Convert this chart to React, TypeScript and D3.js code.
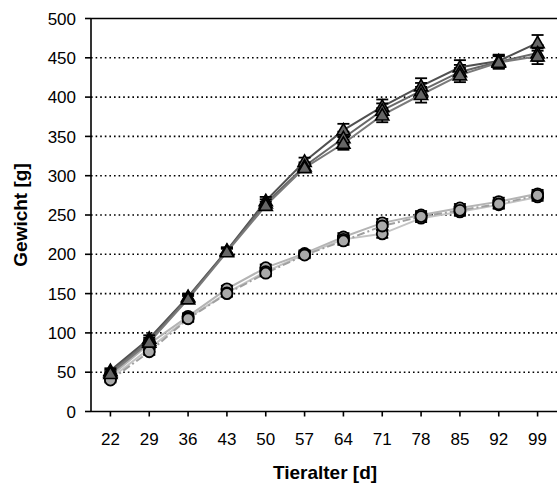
import React from "react";
import * as d3 from "d3";

const ages = ["22", "29", "36", "43", "50", "57", "64", "71", "78", "85", "92", "99"];
const yTicks = [0, 50, 100, 150, 200, 250, 300, 350, 400, 450, 500];

const triA = [52, 93, 146, 205, 268, 318, 358, 388, 414, 438, 446, 469];
const triB = [50, 90, 145, 204, 265, 312, 348, 383, 408, 432, 445, 456];
const triC = [48, 88, 143, 203, 262, 310, 341, 377, 403, 428, 444, 452];
const triErr = [3, 4, 4, 4, 5, 5, 8, 9, 10, 9, 8, 10];

const cirA = [45, 86, 121, 156, 183, 201, 222, 240, 250, 259, 267, 277];
const cirB = [42, 80, 119, 151, 178, 200, 219, 226, 246, 254, 263, 273];
const cirC = [40, 76, 118, 150, 176, 199, 217, 236, 248, 256, 264, 275];
const cirErr = [3, 4, 4, 4, 4, 4, 5, 5, 5, 5, 5, 5];

const W = 558, H = 487;
const left = 91, right = 557, top = 18.5, bottom = 411.5;

export default function App() {
  const x = d3.scaleBand().domain(ages).range([left, right]);
  const y = d3.scaleLinear().domain([0, 500]).range([bottom, top]);
  const cx = (i: number) => (x(ages[i]) as number) + x.bandwidth() / 2;
  const line = d3.line<number>().x((_, i) => cx(i)).y((v) => y(v));
  const tri = d3.symbol().type(d3.symbolTriangle).size(75);

  const triSeries = [
    { v: triA, c: "#505050" },
    { v: triB, c: "#686868" },
    { v: triC, c: "#7a7a7a" },
  ];
  const cirSeries = [
    { v: cirA, c: "#b4b4b4", dash: "" },
    { v: cirB, c: "#c4c4c4", dash: "" },
    { v: cirC, c: "#a0a0a0", dash: "8,3,2,3" },
  ];

  const errBars = (vals: number[], err: number[], key: string) =>
    vals.map((v, i) => (
      <g key={key + i} stroke="#000" strokeWidth={1.8}>
        <line x1={cx(i)} x2={cx(i)} y1={y(v + err[i])} y2={y(v - err[i])} />
        <line x1={cx(i) - 6} x2={cx(i) + 6} y1={y(v + err[i])} y2={y(v + err[i])} />
        <line x1={cx(i) - 6} x2={cx(i) + 6} y1={y(v - err[i])} y2={y(v - err[i])} />
      </g>
    ));

  return (
    <svg width={W} height={H} style={{ position: "absolute", left: 0, top: 0 }} fontFamily="Arial, Liberation Sans, sans-serif">
      <rect width={W} height={H} fill="#fff" />
      {yTicks.filter((t) => t > 0 && t < 500).map((t) => (
        <line key={"g" + t} x1={left} x2={right} y1={y(t)} y2={y(t)} stroke="#000" strokeWidth={1.6} strokeDasharray="1.6,3" />
      ))}
      <line x1={left} x2={right} y1={y(500)} y2={y(500)} stroke="#000" strokeWidth={1.6} />
      <line x1={left} x2={left} y1={top} y2={bottom} stroke="#000" strokeWidth={1.6} />
      <line x1={left} x2={right} y1={bottom} y2={bottom} stroke="#000" strokeWidth={1.6} />
      {yTicks.map((t) => (
        <g key={"yt" + t}>
          <line x1={left - 6} x2={left} y1={y(t)} y2={y(t)} stroke="#000" strokeWidth={1.6} />
          <text x={76} y={y(t)} dy="0.36em" textAnchor="end" fontSize={17}>{t}</text>
        </g>
      ))}
      {ages.map((a, i) => (
        <g key={"xt" + a}>
          <line x1={cx(i)} x2={cx(i)} y1={bottom} y2={bottom + 5} stroke="#000" strokeWidth={1.6} />
          <text x={cx(i)} y={445} textAnchor="middle" fontSize={17}>{a}</text>
        </g>
      ))}
      <text x={325} y={479} textAnchor="middle" fontSize={19} fontWeight="bold">Tieralter [d]</text>
      <text transform={`translate(27,215) rotate(-90)`} textAnchor="middle" fontSize={19} fontWeight="bold">Gewicht [g]</text>

      {cirSeries.map((s, k) => (
        <path key={"cl" + k} d={line(s.v) as string} fill="none" stroke={s.c} strokeWidth={2} strokeDasharray={s.dash} />
      ))}
      {cirSeries.map((s, k) => errBars(s.v, cirErr, "ce" + k))}
      {cirSeries.map((s, k) =>
        s.v.map((v, i) => (
          <circle key={"c" + k + i} cx={cx(i)} cy={y(v)} r={5.5} fill="#aaa" stroke="#000" strokeWidth={1.8} />
        ))
      )}

      {triSeries.map((s, k) => (
        <path key={"tl" + k} d={line(s.v) as string} fill="none" stroke={s.c} strokeWidth={2} />
      ))}
      {triSeries.map((s, k) => errBars(s.v, triErr, "te" + k))}
      {triSeries.map((s, k) =>
        s.v.map((v, i) => (
          <path key={"t" + k + i} d={tri() as string} transform={`translate(${cx(i)},${y(v) + 1})`} fill="#666" stroke="#000" strokeWidth={1.6} />
        ))
      )}
    </svg>
  );
}
